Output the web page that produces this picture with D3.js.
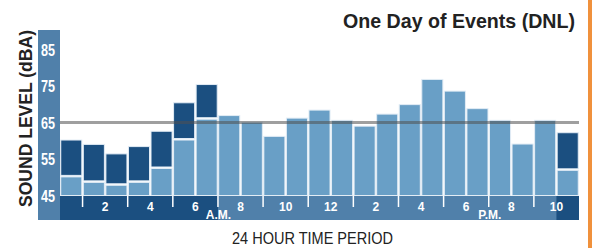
<!DOCTYPE html>
<html>
<head>
<meta charset="utf-8">
<script src="https://cdn.jsdelivr.net/npm/d3@7"></script>
<style>
  html, body { margin: 0; padding: 0; background: #fff; }
  svg { display: block; font-family: "Liberation Sans Narrow", "Liberation Sans", Arial, sans-serif; }
</style>
</head>
<body>
<div id="chart"></div>
<script>
// Hourly sound levels (dBA), hour 0 .. 22
const hours = d3.range(23);
// total level (top of each bar)
const totalLevel = [60.2, 59.0, 56.4, 58.4, 62.6, 70.4, 75.4, 66.9, 65.1, 61.2, 66.2, 68.4,
                    65.6, 64.0, 67.3, 69.9, 76.8, 73.6, 68.8, 65.6, 59.1, 65.6, 62.2];
// level before the night-time penalty (null = no penalty, daytime hour)
const baseLevel = [50.1, 48.6, 47.8, 48.6, 52.4, 60.2, 65.9, null, null, null, null, null,
                   null, null, null, null, null, null, null, null, null, null, 51.9];
const yTicks = [45, 55, 65, 75, 85];
const hourTicks = [2, 4, 6, 8, 10, 12, 14, 16, 18, 20, 22];
const hourLabels = ['2', '4', '6', '8', '10', '12', '2', '4', '6', '8', '10'];
const minorTicks = [1, 3, 5, 7, 9, 11, 13, 15, 17, 19, 21];
const nightSpans = [[0, 7], [22, 23]];
const dnlLimit = 65;

const W = 592, H = 248;
const colLight = '#699fc6', colDark = '#1b4f80', colBand = '#5080aa';

const svg = d3.select('#chart').append('svg')
  .attr('width', W).attr('height', H);

const x = d3.scaleLinear().domain([0, 23]).range([60, 579]);
const y = d3.scaleLinear().domain([45, 85]).range([195.5, 49.5]);

// orange stripe on the right
svg.append('rect').attr('x', 588).attr('y', 0).attr('width', 4).attr('height', H).attr('fill', '#f0913c');

// y-axis band
svg.append('rect').attr('x', 38).attr('y', 30).attr('width', 22).attr('height', 190).attr('fill', colBand);

// bottom time band
svg.append('rect').attr('x', x(0)).attr('y', 196).attr('width', x(23) - x(0)).attr('height', 24).attr('fill', colBand);
svg.append('g').selectAll('rect').data(nightSpans).join('rect')
  .attr('x', d => x(d[0])).attr('y', 196)
  .attr('width', d => x(d[1]) - x(d[0])).attr('height', 24)
  .attr('fill', colDark);

// minor ticks in time band
svg.append('g').selectAll('line').data(minorTicks).join('line')
  .attr('x1', d => x(d)).attr('x2', d => x(d))
  .attr('y1', 196).attr('y2', 207)
  .attr('stroke', '#fff').attr('stroke-width', 1.5);

// hour labels
svg.append('g').selectAll('text').data(hourTicks).join('text')
  .attr('x', d => x(d)).attr('y', 210.5)
  .attr('text-anchor', 'middle')
  .attr('fill', '#fff').attr('font-weight', 'bold').attr('font-size', 12)
  .text((d, i) => hourLabels[i]);

svg.append('text').attr('x', x(7) + 0.5).attr('y', 218.5).attr('text-anchor', 'middle')
  .attr('fill', '#fff').attr('font-weight', 'bold').attr('font-size', 12).text('A.M.');
svg.append('text').attr('x', x(19) + 1).attr('y', 218.5).attr('text-anchor', 'middle')
  .attr('fill', '#fff').attr('font-weight', 'bold').attr('font-size', 12).text('P.M.');

// bars
const step = x(1) - x(0);
const bars = svg.append('g');
bars.selectAll('rect.light').data(hours).join('rect')
  .attr('class', 'light')
  .attr('x', d => x(d) + 0.75).attr('width', step - 1.5)
  .attr('y', d => y(baseLevel[d] != null ? baseLevel[d] : totalLevel[d]))
  .attr('height', d => y(45) - y(baseLevel[d] != null ? baseLevel[d] : totalLevel[d]))
  .attr('fill', colLight).attr('stroke', '#e2ecf5').attr('stroke-width', 1);
bars.selectAll('rect.dark').data(hours.filter(h => baseLevel[h] != null)).join('rect')
  .attr('class', 'dark')
  .attr('x', d => x(d) + 0.75).attr('width', step - 1.5)
  .attr('y', d => y(totalLevel[d]))
  .attr('height', d => y(baseLevel[d]) - y(totalLevel[d]) - 1.5)
  .attr('fill', colDark).attr('stroke', '#e2ecf5').attr('stroke-width', 1);

// 65 dB reference line
svg.append('line')
  .attr('x1', x(0)).attr('x2', x(23))
  .attr('y1', y(dnlLimit)).attr('y2', y(dnlLimit))
  .attr('stroke', '#505050').attr('stroke-opacity', 0.55).attr('stroke-width', 3);

// y tick labels
svg.append('g').selectAll('text').data(yTicks).join('text')
  .attr('x', 41).attr('y', d => y(d) + 6)
  .attr('fill', '#fff').attr('font-weight', 'bold').attr('font-size', 16)
  .attr('textLength', 14).attr('lengthAdjust', 'spacingAndGlyphs')
  .text(d => d);

// y axis title
svg.append('text')
  .attr('transform', 'translate(32,118.5) rotate(-90)')
  .attr('text-anchor', 'middle')
  .attr('fill', '#222').attr('font-weight', 'bold').attr('font-size', 18)
  .attr('textLength', 177).attr('lengthAdjust', 'spacingAndGlyphs')
  .text('SOUND LEVEL (dBA)');

// chart title
svg.append('text')
  .attr('x', 343).attr('y', 28)
  .attr('fill', '#222').attr('font-weight', 'bold').attr('font-size', 21)
  .attr('textLength', 232).attr('lengthAdjust', 'spacingAndGlyphs')
  .text('One Day of Events (DNL)');

// x axis title
svg.append('text')
  .attr('x', 232).attr('y', 244)
  .attr('fill', '#222').attr('font-size', 16.5)
  .attr('textLength', 161).attr('lengthAdjust', 'spacingAndGlyphs')
  .text('24 HOUR TIME PERIOD');
</script>
</body>
</html>
